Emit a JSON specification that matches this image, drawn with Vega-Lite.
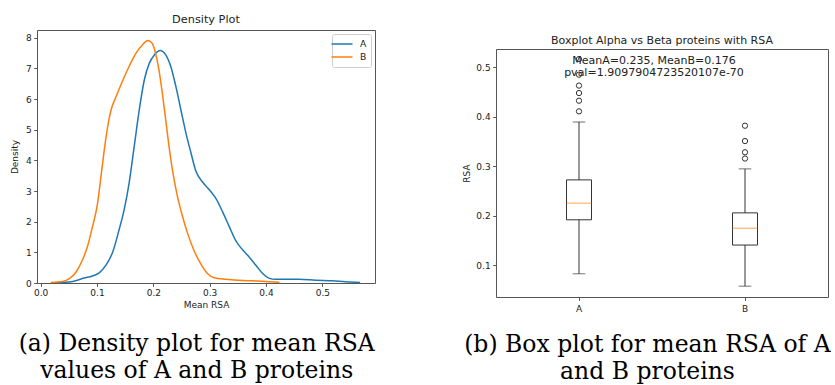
{
  "$schema": "https://vega.github.io/schema/vega-lite/v6.json",
  "background": "white",
  "padding": {"left": 9, "top": 13, "right": 0, "bottom": 0},
  "spacing": 86,
  "config": {
    "font": "DejaVu Sans",
    "view": {"stroke": "#555555", "strokeWidth": 1},
    "axis": {
      "domain": false,
      "grid": false,
      "ticks": true,
      "tickColor": "#555555",
      "tickSize": 3.3,
      "tickWidth": 1,
      "labelColor": "#222222",
      "labelFont": "DejaVu Sans",
      "labelFontSize": 9,
      "labelPadding": 2.5,
      "titleFont": "DejaVu Sans",
      "titleFontSize": 9,
      "titleFontWeight": "normal",
      "titleColor": "#222222"
    },
    "title": {"font": "DejaVu Sans", "fontWeight": "normal", "color": "#222222"}
  },
  "hconcat": [
    {
      "title": {
        "text": ["(a) Density plot for mean RSA", "values of A and B proteins"],
        "orient": "bottom",
        "anchor": "middle",
        "font": "DejaVu Serif",
        "fontSize": 23.5,
        "lineHeight": 27,
        "color": "#000000",
        "offset": 22,
        "dx": 4
      },
      "resolve": {"legend": {"color": "independent"}},
      "vconcat": [
        {
          "width": 338,
          "height": 253,
          "title": {"text": "Density Plot", "fontSize": 11.3, "offset": 5},
          "data": {
            "values": [
              {"series": "A", "rsa": 0.027, "density": 0.01},
              {"series": "A", "rsa": 0.057, "density": 0.05},
              {"series": "A", "rsa": 0.077, "density": 0.16},
              {"series": "A", "rsa": 0.092, "density": 0.23},
              {"series": "A", "rsa": 0.104, "density": 0.33},
              {"series": "A", "rsa": 0.116, "density": 0.58},
              {"series": "A", "rsa": 0.128, "density": 1.01},
              {"series": "A", "rsa": 0.139, "density": 1.72},
              {"series": "A", "rsa": 0.148, "density": 2.37},
              {"series": "A", "rsa": 0.157, "density": 3.25},
              {"series": "A", "rsa": 0.166, "density": 4.44},
              {"series": "A", "rsa": 0.175, "density": 5.64},
              {"series": "A", "rsa": 0.184, "density": 6.62},
              {"series": "A", "rsa": 0.193, "density": 7.17},
              {"series": "A", "rsa": 0.202, "density": 7.44},
              {"series": "A", "rsa": 0.212, "density": 7.58},
              {"series": "A", "rsa": 0.222, "density": 7.44},
              {"series": "A", "rsa": 0.231, "density": 7.06},
              {"series": "A", "rsa": 0.240, "density": 6.41},
              {"series": "A", "rsa": 0.249, "density": 5.64},
              {"series": "A", "rsa": 0.258, "density": 4.88},
              {"series": "A", "rsa": 0.267, "density": 4.23},
              {"series": "A", "rsa": 0.275, "density": 3.68},
              {"series": "A", "rsa": 0.287, "density": 3.30},
              {"series": "A", "rsa": 0.299, "density": 3.05},
              {"series": "A", "rsa": 0.311, "density": 2.76},
              {"series": "A", "rsa": 0.323, "density": 2.32},
              {"series": "A", "rsa": 0.335, "density": 1.83},
              {"series": "A", "rsa": 0.346, "density": 1.39},
              {"series": "A", "rsa": 0.358, "density": 1.09},
              {"series": "A", "rsa": 0.370, "density": 0.85},
              {"series": "A", "rsa": 0.382, "density": 0.58},
              {"series": "A", "rsa": 0.394, "density": 0.31},
              {"series": "A", "rsa": 0.405, "density": 0.16},
              {"series": "A", "rsa": 0.417, "density": 0.12},
              {"series": "A", "rsa": 0.441, "density": 0.12},
              {"series": "A", "rsa": 0.459, "density": 0.12},
              {"series": "A", "rsa": 0.488, "density": 0.09},
              {"series": "A", "rsa": 0.518, "density": 0.07},
              {"series": "A", "rsa": 0.541, "density": 0.04},
              {"series": "A", "rsa": 0.567, "density": 0.02},
              {"series": "B", "rsa": 0.018, "density": 0.02},
              {"series": "B", "rsa": 0.039, "density": 0.05},
              {"series": "B", "rsa": 0.051, "density": 0.14},
              {"series": "B", "rsa": 0.063, "density": 0.36},
              {"series": "B", "rsa": 0.074, "density": 0.74},
              {"series": "B", "rsa": 0.083, "density": 1.18},
              {"series": "B", "rsa": 0.092, "density": 1.83},
              {"series": "B", "rsa": 0.101, "density": 2.59},
              {"series": "B", "rsa": 0.107, "density": 3.46},
              {"series": "B", "rsa": 0.113, "density": 4.34},
              {"series": "B", "rsa": 0.119, "density": 5.10},
              {"series": "B", "rsa": 0.125, "density": 5.64},
              {"series": "B", "rsa": 0.134, "density": 6.08},
              {"series": "B", "rsa": 0.145, "density": 6.57},
              {"series": "B", "rsa": 0.157, "density": 7.06},
              {"series": "B", "rsa": 0.169, "density": 7.49},
              {"series": "B", "rsa": 0.181, "density": 7.77},
              {"series": "B", "rsa": 0.190, "density": 7.91},
              {"series": "B", "rsa": 0.197, "density": 7.84},
              {"series": "B", "rsa": 0.204, "density": 7.49},
              {"series": "B", "rsa": 0.210, "density": 6.95},
              {"series": "B", "rsa": 0.216, "density": 6.19},
              {"series": "B", "rsa": 0.222, "density": 5.32},
              {"series": "B", "rsa": 0.228, "density": 4.44},
              {"series": "B", "rsa": 0.234, "density": 3.68},
              {"series": "B", "rsa": 0.243, "density": 2.81},
              {"series": "B", "rsa": 0.252, "density": 2.16},
              {"series": "B", "rsa": 0.261, "density": 1.61},
              {"series": "B", "rsa": 0.272, "density": 1.07},
              {"series": "B", "rsa": 0.284, "density": 0.63},
              {"series": "B", "rsa": 0.296, "density": 0.31},
              {"series": "B", "rsa": 0.308, "density": 0.17},
              {"series": "B", "rsa": 0.329, "density": 0.12},
              {"series": "B", "rsa": 0.352, "density": 0.09},
              {"series": "B", "rsa": 0.376, "density": 0.07},
              {"series": "B", "rsa": 0.400, "density": 0.05},
              {"series": "B", "rsa": 0.424, "density": 0.02}
            ]
          },
          "mark": {"type": "line", "strokeWidth": 1.5, "interpolate": "monotone"},
          "encoding": {
            "x": {
              "field": "rsa",
              "type": "quantitative",
              "scale": {"domain": [-0.0064, 0.5934], "nice": false, "zero": false},
              "axis": {"values": [0, 0.1, 0.2, 0.3, 0.4, 0.5], "format": ".1f", "title": "Mean RSA", "titlePadding": 3}
            },
            "y": {
              "field": "density",
              "type": "quantitative",
              "scale": {"domain": [0, 8.25], "nice": false},
              "axis": {"values": [0, 1, 2, 3, 4, 5, 6, 7, 8], "format": "d", "title": "Density", "titlePadding": 6}
            },
            "color": {
              "field": "series",
              "type": "nominal",
              "scale": {"domain": ["A", "B"], "range": ["#1f77b4", "#ff7f0e"]},
              "legend": {
                "title": null,
                "orient": "top-right",
                "offset": 4,
                "symbolType": "M-2,0H2",
                "symbolSize": 110,
                "symbolStrokeWidth": 1.5,
                "labelFont": "DejaVu Sans",
                "labelFontSize": 9.2,
                "labelColor": "#222222",
                "labelOffset": 12,
                "strokeColor": "#cccccc",
                "fillColor": "rgba(255,255,255,0.8)",
                "cornerRadius": 2,
                "padding": 4,
                "rowPadding": 1
              }
            }
          }
        }
      ]
    },
    {
      "title": {
        "text": ["(b) Box plot for mean RSA of A", "and B proteins"],
        "orient": "bottom",
        "anchor": "middle",
        "font": "DejaVu Serif",
        "fontSize": 23.5,
        "lineHeight": 27,
        "color": "#000000",
        "offset": 19,
        "dx": 2
      },
      "spacing": 2,
      "vconcat": [
        {
          "width": 332,
          "height": 2,
          "view": {"stroke": null},
          "data": {"values": []},
          "mark": {"type": "point", "opacity": 0}
        },
        {
          "width": 332,
          "height": 248,
          "title": {
            "text": "Boxplot Alpha vs Beta proteins with RSA",
            "fontSize": 11,
            "offset": 3
          },
          "layer": [
            {
              "data": {"name": "boxes"},
              "mark": {"type": "rule", "color": "#333333", "strokeWidth": 1},
              "encoding": {
                "x": {"field": "group", "type": "nominal"},
                "y": {"field": "lower", "type": "quantitative"},
                "y2": {"field": "upper"}
              }
            },
            {
              "data": {"name": "boxes"},
              "mark": {"type": "bar", "width": 25, "fill": "white", "stroke": "#333333", "strokeWidth": 1},
              "encoding": {
                "x": {"field": "group", "type": "nominal"},
                "y": {"field": "q1", "type": "quantitative"},
                "y2": {"field": "q3"}
              }
            },
            {
              "data": {"name": "boxes"},
              "mark": {"type": "tick", "orient": "horizontal", "size": 25, "thickness": 1, "color": "#ff7f0e"},
              "encoding": {
                "x": {"field": "group", "type": "nominal"},
                "y": {"field": "median", "type": "quantitative"}
              }
            },
            {
              "data": {"name": "boxes"},
              "mark": {"type": "tick", "orient": "horizontal", "size": 12.5, "thickness": 1, "color": "#333333"},
              "encoding": {
                "x": {"field": "group", "type": "nominal"},
                "y": {"field": "lower", "type": "quantitative"}
              }
            },
            {
              "data": {"name": "boxes"},
              "mark": {"type": "tick", "orient": "horizontal", "size": 12.5, "thickness": 1, "color": "#333333"},
              "encoding": {
                "x": {"field": "group", "type": "nominal"},
                "y": {"field": "upper", "type": "quantitative"}
              }
            },
            {
              "data": {"name": "outliers"},
              "mark": {"type": "point", "shape": "circle", "filled": false, "stroke": "#333333", "strokeWidth": 1, "size": 28, "opacity": 1},
              "encoding": {
                "x": {"field": "group", "type": "nominal"},
                "y": {"field": "rsa", "type": "quantitative"}
              }
            },
            {
              "data": {"name": "note"},
              "mark": {"type": "text", "fontSize": 11, "font": "DejaVu Sans", "color": "#222222", "baseline": "middle", "align": "center", "lineBreak": "\n", "lineHeight": 11.7, "dx": -8, "dy": -6},
              "encoding": {
                "x": {"datum": "B", "type": "nominal", "bandPosition": 0},
                "y": {"datum": 0.5, "type": "quantitative"},
                "text": {"field": "label", "type": "nominal"}
              }
            }
          ],
          "encoding": {
            "x": {
              "field": "group",
              "type": "nominal",
              "scale": {"domain": ["A", "B"], "paddingInner": 0, "paddingOuter": 0},
              "axis": {"title": null, "labelAngle": 0, "labelPadding": 4}
            },
            "y": {
              "type": "quantitative",
              "scale": {"domain": [0.0361, 0.5369], "nice": false, "zero": false},
              "axis": {"values": [0.1, 0.2, 0.3, 0.4, 0.5], "format": ".1f", "title": "RSA", "titlePadding": 4}
            }
          },
          "resolve": {"scale": {"x": "shared", "y": "shared"}}
        }
      ]
    }
  ],
  "datasets": {
    "boxes": [
      {"group": "A", "lower": 0.083, "q1": 0.192, "median": 0.2256, "q3": 0.2726, "upper": 0.3895},
      {"group": "B", "lower": 0.058, "q1": 0.141, "median": 0.175, "q3": 0.206, "upper": 0.2948}
    ],
    "outliers": [
      {"group": "A", "rsa": 0.411},
      {"group": "A", "rsa": 0.4325},
      {"group": "A", "rsa": 0.448},
      {"group": "A", "rsa": 0.463},
      {"group": "A", "rsa": 0.485},
      {"group": "A", "rsa": 0.5165},
      {"group": "B", "rsa": 0.3157},
      {"group": "B", "rsa": 0.3284},
      {"group": "B", "rsa": 0.351},
      {"group": "B", "rsa": 0.382}
    ],
    "note": [
      {"label": "MeanA=0.235, MeanB=0.176\npval=1.9097904723520107e-70"}
    ]
  }
}
